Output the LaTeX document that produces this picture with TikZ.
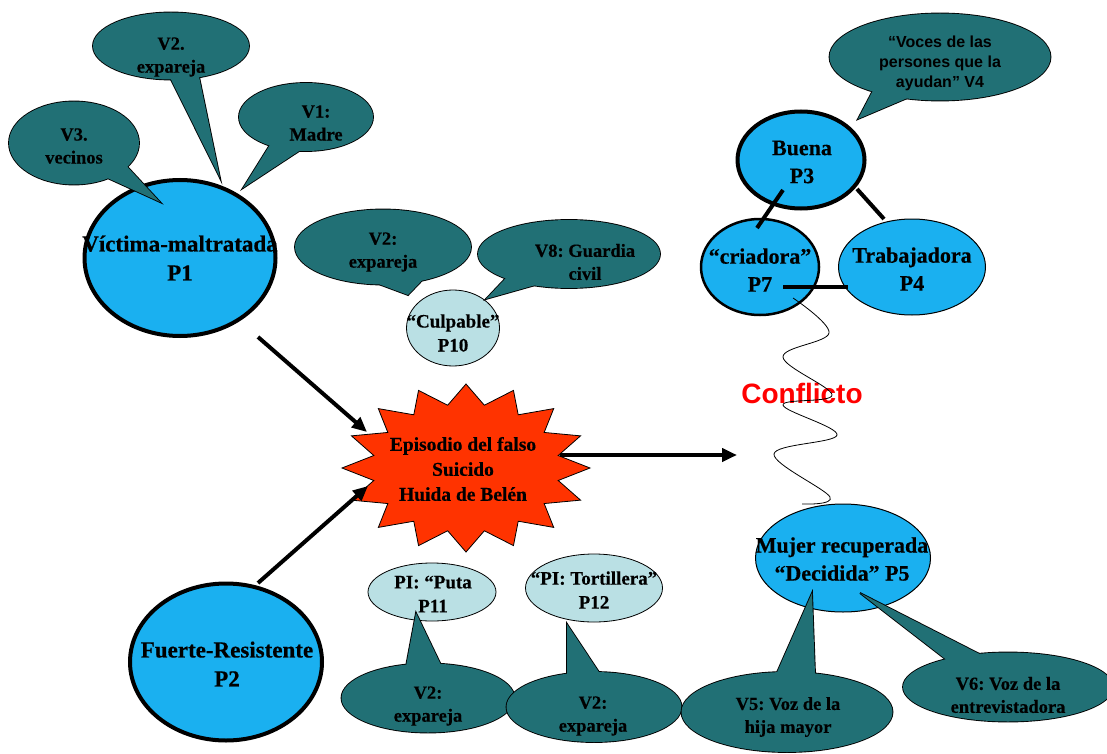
\documentclass[tikz,border=0pt]{standalone}
\usepackage{fontspec}
\setmainfont{Liberation Serif}[BoldFeatures={FakeBold=0.4}]
\newfontfamily\arialb{Liberation Sans}
\usetikzlibrary{shapes.geometric,arrows.meta,calc}
\definecolor{skyb}{RGB}{26,176,240}
\definecolor{tealc}{RGB}{33,112,117}
\definecolor{pale}{RGB}{186,224,228}
\definecolor{burstc}{RGB}{255,51,0}
\definecolor{confred}{RGB}{255,0,0}
\frenchspacing
\tikzset{
  bignode/.style={ellipse, draw=black, fill=skyb, line width=4pt, inner sep=0pt, outer sep=0pt},
  midnode/.style={ellipse, draw=black, fill=skyb, line width=2.5pt, inner sep=0pt, outer sep=0pt},
  thinnode/.style={ellipse, draw=black, fill=skyb, line width=1pt, inner sep=0pt, outer sep=0pt},
  palenode/.style={ellipse, draw=black, fill=pale, line width=0.8pt, inner sep=0pt, outer sep=0pt},
  bigtxt/.style={font=\bfseries\fontsize{23}{29}\selectfont, align=center, inner sep=0pt},
  medtxt/.style={font=\bfseries\fontsize{22}{28}\selectfont, align=center, inner sep=0pt},
  smalltxt/.style={font=\bfseries\fontsize{19}{24}\selectfont, align=center, inner sep=0pt},
  bubtxt/.style={font=\bfseries\fontsize{18.5}{23}\selectfont, align=center, inner sep=0pt},
  bubsans/.style={font=\arialb\bfseries\fontsize{16}{20}\selectfont, align=center, inner sep=0pt},
  bubring/.style={ellipse, draw=black, line width=1.8pt, inner sep=0pt, outer sep=0pt},
  bubedge/.style={draw=black, line width=1.8pt, line join=miter},
  bubfill/.style={ellipse, fill=tealc, inner sep=0pt, outer sep=0pt},
  arr/.style={line width=4pt, -{Triangle[length=15pt,width=13pt]}},
  link/.style={line width=4pt},
  wave/.style={line width=0.8pt},
}
\newcommand\bubble[7]{%
  \node[bubring, minimum width=#3, minimum height=#4] (#1) at (#2) {};
  \draw[bubedge] (#1.#5) -- (#7) -- (#1.#6);
  \fill[tealc] (#1.#5) -- (#7) -- (#1.#6) -- (#1.center) -- cycle;
  \node[bubfill, minimum width=#3, minimum height=#4] (#1-f) at (#2) {};
}
\begin{document}
\begin{tikzpicture}[x=1pt,y=-1pt]
\clip (0,0) rectangle (1107,754);
\fill[white] (0,0) rectangle (1107,754);

% left big nodes
\node[bignode, minimum width=191pt, minimum height=156pt] (p1) at (180,258) {};
\node[bigtxt] (p1t) at (180,258) {Víctima-maltratada\\P1};
\node[bignode, minimum width=192pt, minimum height=157pt] (p2) at (226,662) {};
\node[bigtxt] (p2t) at (227,664) {Fuerte-Resistente\\P2};

% callouts around P1
\bubble{vb2a}{171,46}{156pt}{67pt}{270}{312}{220,178}
\node[bubtxt] (vb2at) at (171,57) {V2.\\expareja};
\bubble{vb3}{74,143}{130pt}{83pt}{314}{336}{160,202}
\node[bubtxt] (vb3t) at (74,146) {V3.\\vecinos};
\bubble{vb1}{306,117}{134pt}{68pt}{218}{259}{243,188}
\node[bubtxt] (vb1t) at (316,123) {V1:\\Madre};

% culpable
\node[palenode, minimum width=93pt, minimum height=76pt] (p10) at (453,328) {};
\node[smalltxt] (p10t) at (453,333) {“Culpable”\\P10};
\bubble{vb2b}{383,247}{176pt}{75pt}{265}{319}{408,295}
\node[bubtxt] (vb2bt) at (383,252) {V2:\\expareja};
\bubble{vb8}{569,254}{182pt}{68pt}{201}{222}{486,299}
\node[bubtxt] (vb8t) at (585,262) {V8: Guardia\\civil};

% starburst
\node[ellipse, minimum width=248pt, minimum height=168pt, inner sep=0pt] (burst) at (466,468) {};
\draw[fill=burstc, line width=0.8pt, line join=miter]
  plot[samples at={0,...,31}, variable=\k]
  ({466+(iseven(\k)?124:94)*cos(90+\k*11.25)}, {468-(iseven(\k)?84:64)*sin(90+\k*11.25)}) -- cycle;
\node[font=\bfseries\fontsize{19.5}{25}\selectfont, align=center, inner sep=0pt] (burstt) at (463,469) {Episodio del falso\\Suicido\\Huida de Belén};

% arrows
\coordinate (cf) at (737,455);
\draw[arr] ($(p1.center)+(78,79)$) -- ($(burst.center)+(-99,-36)$);
\draw[arr] ($(p2.center)+(32,-79)$) -- ($(burst.center)+(-98,18)$);
\draw[arr] ($(burst.center)+(94,-13)$) -- (cf);

% right cluster
\node[bignode, minimum width=127pt, minimum height=97pt] (p3) at (801,160) {};
\node[medtxt] (p3t) at (802,162) {Buena\\P3};
\node[midnode, minimum width=118pt, minimum height=96pt] (p7) at (760,267) {};
\node[medtxt] (p7t) at (760,270) {“criadora”\\P7};
\node[thinnode, minimum width=147pt, minimum height=96pt] (p4) at (912,267) {};
\node[medtxt] (p4t) at (912,269) {Trabajadora\\P4};
\draw[link] ($(p3.center)+(-18,30)$) -- ($(p7.center)+(-3,-39)$);
\draw[link] ($(p3.center)+(56,29)$) -- ($(p4.center)+(-28,-48)$);
\draw[link] ($(p7.center)+(23,20)$) -- ($(p4.center)+(-64,20)$);
\bubble{vb4}{940,57}{221pt}{87pt}{207}{231}{858,119}
\node[bubsans] (vb4t) at (940,63) {“Voces de las\\persones que la\\ayudan” V4};

% conflict
\node[font=\arialb\bfseries\fontsize{28}{32}\selectfont, text=confred, inner sep=0pt] (conf) at (802,393) {Conflicto};
\draw[wave] plot[smooth, tension=0.6] coordinates {(793,298) (829,333) (783,357) (832,395) (783,405) (837,435) (774,454) (830,497) (802,504)};

% P5
\node[thinnode, minimum width=175pt, minimum height=108pt] (p5) at (843,558) {};
\node[medtxt] (p5t) at (842,559) {Mujer recuperada\\“Decidida” P5};

% pale bottom nodes
\node[palenode, minimum width=128pt, minimum height=58pt] (p11) at (432,592) {};
\node[smalltxt] (p11t) at (433,594) {PI: “Puta\\P11};
\node[palenode, minimum width=137pt, minimum height=68pt] (p12) at (594,588) {};
\node[smalltxt] (p12t) at (594,590) {“PI: Tortillera”\\P12};

\bubble{vb2c}{428,698}{173pt}{69pt}{123}{70}{416,613}
\node[bubtxt] (vb2ct) at (428,706) {V2:\\expareja};
\bubble{vb2d}{594,707}{175pt}{70pt}{129}{82}{567,624}
\node[bubtxt] (vb2dt) at (593,716) {V2:\\expareja};
\bubble{vb5}{787,712}{211pt}{80pt}{104}{54}{812,593}
\node[bubtxt] (vb5t) at (788,717) {V5: Voz de la\\hija mayor};
\bubble{vb6}{1008,687}{210pt}{69pt}{156}{131}{860,593}
\node[bubtxt] (vb6t) at (1008,695) {V6: Voz de la\\entrevistadora};
\end{tikzpicture}
\end{document}
